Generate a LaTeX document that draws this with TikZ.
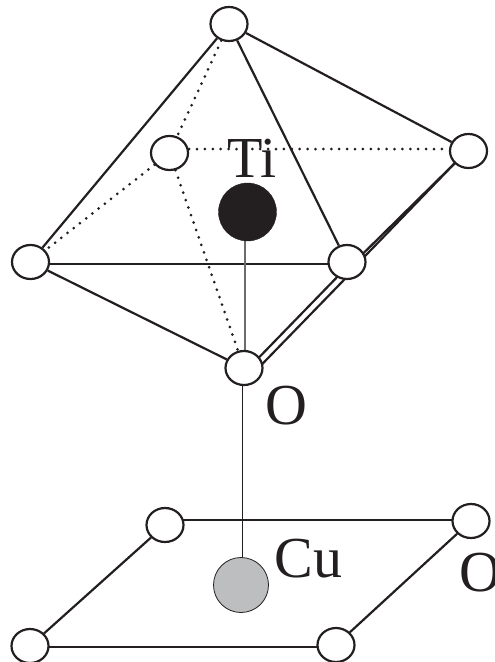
\documentclass[tikz,border=0pt]{standalone}
\usepackage{fontspec}
\setmainfont{Liberation Serif}
\usetikzlibrary{backgrounds,shapes.geometric}
\definecolor{inkk}{HTML}{231F20}
\definecolor{cugray}{HTML}{BCBEC0}
\tikzset{
  oxy/.style={ellipse,draw=inkk,fill=white,line width=2.2pt,minimum width=37pt,minimum height=34pt,inner sep=0pt},
  bond/.style={draw=inkk,line width=2.2pt},
  hidden/.style={draw=inkk,line width=3pt,line cap=round,dash pattern=on 0pt off 7.9pt},
  lbl/.style={font=\fontsize{58}{58}\selectfont,text=inkk,inner sep=0pt,anchor=base}
}
\begin{document}
\begin{tikzpicture}[x=1pt,y=-1pt]
\useasboundingbox (0,0) rectangle (495,662);
\clip (0,0) rectangle (495,662);
% octahedron
\node[oxy] (top) at (229,24) {};
\node[oxy] (back) at (169.5,153) {};
\node[oxy] (right) at (468.5,151) {};
\node[oxy] (left) at (30.5,262) {};
\node[oxy] (fr) at (347,262) {};
\node[oxy] (bot) at (244,368) {};
\node[circle,fill=inkk,draw=inkk,minimum size=58pt,inner sep=0pt] (ti) at (247.5,212) {};
% plane
\node[oxy] (pb) at (165,525) {};
\node[oxy] (pr) at (471,521) {};
\node[oxy] (pl) at (30,646) {};
\node[oxy] (pf) at (336,645) {};
\node[circle,fill=cugray,draw=inkk,line width=.8pt,minimum size=55pt,inner sep=0pt] (cu) at (241,585) {};
% labels
\node[lbl] (tilab) at (252,177) {Ti};
\node[lbl] (olab) at (286,424) {O};
\node[lbl] (culab) at (308.5,577) {Cu};
\node[lbl] (olab2) at (480,591) {O};
\begin{scope}[on background layer]
  \draw[bond] (top) -- (left);
  \draw[bond] (top) -- (fr);
  \draw[bond] (top) -- (right);
  \draw[bond] (left) -- (bot);
  \draw[bond] ([yshift=-2pt]left.center) -- ([yshift=-2pt]fr.center);
  \draw[bond] ([shift={(2.4,2.4)}]bot.center) -- ([shift={(2.4,2.4)}]fr.center);
  \draw[bond] ([shift={(7.3,7.3)}]bot.center) -- ([shift={(7.3,7.3)}]fr.center);
  \draw[bond] ([shift={(0,7.4)}]fr.center) -- ([shift={(0,-1.3)}]right.center);
  \draw[bond] ([shift={(0,12.7)}]fr.center) -- ([shift={(0,-2)}]right.center);
  \draw[hidden] (top) -- (back);
  \draw[hidden] (back) -- (left);
  \draw[hidden] (back) -- (bot);
  \draw[hidden] ([yshift=4pt]back.east) -- ([yshift=2pt]right.west);
  \draw[draw=gray!85!black,line width=1.3pt] ([xshift=-2.5pt]ti.center) -- ([xshift=1pt]bot.center);
  \draw[draw=inkk,line width=1pt] ([xshift=-1.5pt]bot.center) -- ([xshift=1.5pt]cu.center);
  \draw[bond] ([yshift=5pt]pb.center) -- ([yshift=1pt]pr.center);
  \draw[bond] (pb) -- (pl);
  \draw[bond] (pr) -- (pf);
  \draw[bond] ([yshift=-1pt]pl.center) -- ([yshift=-2pt]pf.center);
\end{scope}
\end{tikzpicture}
\end{document}
